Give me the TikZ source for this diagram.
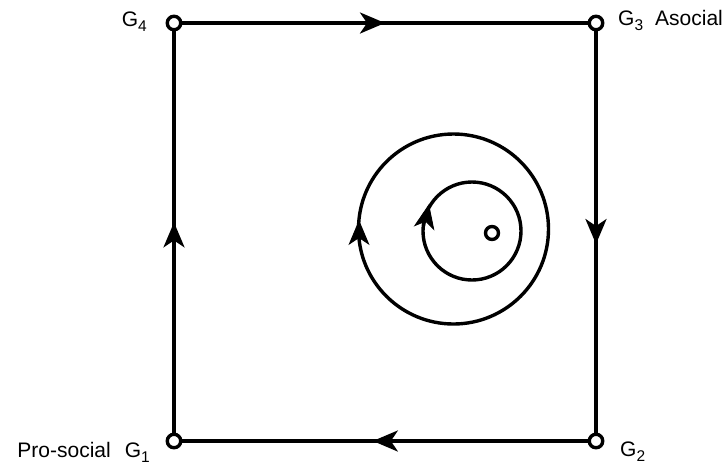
\documentclass[tikz,border=0pt]{standalone}
\usepackage{fontspec}
\setmainfont{Liberation Sans}
\usetikzlibrary{arrows.meta,decorations.markings,calc}
\newcommand{\gsub}[1]{\raisebox{-0.28em}{\fontsize{15.5}{16}\selectfont #1}}
\tikzset{
  vert/.style={circle,draw,fill=white,line width=3.4pt,minimum size=13.5pt,inner sep=0pt},
  edge/.style={line width=3.4pt},
  lbl/.style={font=\fontsize{21}{24}\selectfont,inner sep=0pt},
  bigtip/.tip={Stealth[length=25pt,width=21pt,inset=7pt]},
  midarrow/.style={postaction={decorate},decoration={markings,mark=at position #1 with {\arrow{bigtip}}}}
}
\begin{document}
\begin{tikzpicture}[x=1pt,y=-1pt]
\useasboundingbox (0,0) rectangle (728,467);
\draw[edge] (453.5,229) circle (95);
\draw[edge] (472,231) circle (49);
\coordinate (ob) at (359,246);
\coordinate (ot) at (359,220);
\coordinate (ib) at (424,229);
\coordinate (it) at (429,204);
\draw[line width=1pt,-{bigtip}] ($(ot)!25pt!(ob)$) -- (ot);
\draw[line width=1pt,-{bigtip}] ($(it)!25pt!(ib)$) -- (it);
\node[circle,draw,line width=3.4pt,minimum size=13pt,inner sep=0pt] (c) at (492,233) {};
\node[vert] (g4) at (174,23) {};
\node[vert] (g3) at (596,23) {};
\node[vert] (g2) at (596,441) {};
\node[vert] (g1) at (174,441) {};
\draw[edge,midarrow=0.5] (g4) -- (g3);
\draw[edge,midarrow=0.53] (g3) -- (g2);
\draw[edge,midarrow=0.53] (g2) -- (g1);
\draw[edge,midarrow=0.524] (g1) -- (g4);
\node[lbl,anchor=base east] (l4) at (147,26) {G\gsub{4}};
\node[lbl,anchor=base west] (l3) at (618,25) {G\gsub{3}\hspace{12pt}Asocial};
\node[lbl,anchor=base west] (l2) at (620,456) {G\gsub{2}};
\node[lbl,anchor=base east] (l1) at (150,457) {Pro-social\hspace{14pt}G\gsub{1}};
\end{tikzpicture}
\end{document}
